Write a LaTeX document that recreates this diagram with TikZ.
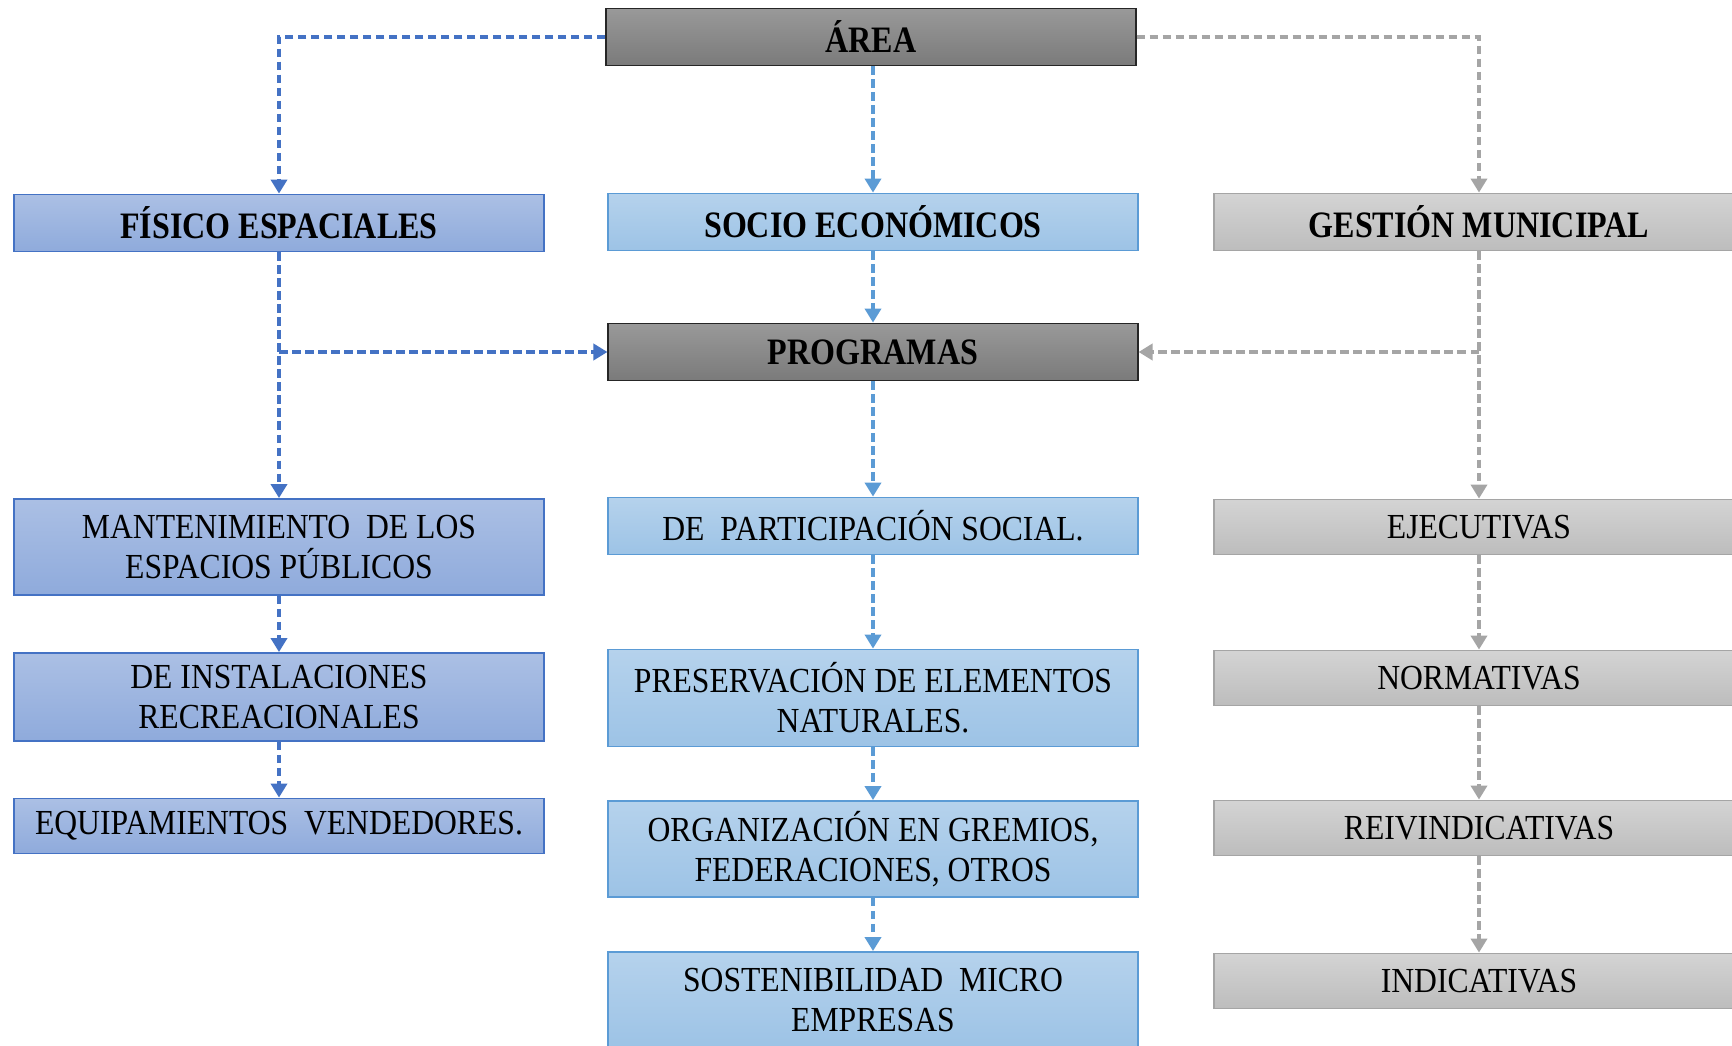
\documentclass[tikz,border=0pt]{standalone}
\usepackage{fontspec}
\setmainfont{Liberation Serif}[FakeStretch=0.9]
\newfontfamily\headfont{Liberation Serif Bold}[FakeStretch=0.86]
\usetikzlibrary{arrows.meta}

\definecolor{fisicoblue}{HTML}{4472C4}
\definecolor{socioblue}{HTML}{5B9BD5}
\definecolor{gestiongray}{HTML}{A5A5A5}

\begin{document}
\begin{tikzpicture}[x=0.01cm, y=-0.01cm,
    box/.style={rectangle, draw, line width=0.5pt, minimum width=5.29cm, minimum height=0.57cm,
        inner sep=0pt, align=center, font=\fontsize{10pt}{11.3pt}\selectfont},
    headbox/.style={box, font=\headfont\fontsize{10.6pt}{12pt}\selectfont},
    fisicobox/.style={box, draw=fisicoblue, top color=fisicoblue!45!white, bottom color=fisicoblue!60!white},
    sociobox/.style={box, draw=socioblue, top color=socioblue!45!white, bottom color=socioblue!60!white},
    gestionbox/.style={box, draw=gestiongray, top color=black!17, bottom color=black!26},
    darkbox/.style={headbox, draw=black!85, top color=black!40, bottom color=black!52},
    link/.style={line width=1.1pt, dash pattern=on 0.085cm off 0.045cm,
        -{Triangle[length=0.14cm, width=0.16cm]}},
    fisicoline/.style={link, fisicoblue},
    socioline/.style={link, socioblue},
    gestionline/.style={link, gestiongray}]

    \useasboundingbox (0,0) rectangle (1732,1046);
    \fill[white] (0,0) rectangle (1732,1046);
    \clip (0,0) rectangle (1732,1046);

    % Draw top nodes
    \node[darkbox] (area) at (871, 37) {ÁREA};
    \node[fisicobox, headbox] (fisico) at (279, 223) {FÍSICO ESPACIALES};
    \node[sociobox, headbox] (socio) at (873, 222) {SOCIO ECONÓMICOS};
    \node[gestionbox, headbox] (gestion) at (1479, 222) {GESTIÓN MUNICIPAL};
    \node[darkbox] (programas) at (873, 352) {PROGRAMAS};

    % Draw left column
    \node[fisicobox, minimum height=0.96cm] (mant) at (279, 547) {MANTENIMIENTO~ DE LOS\\ESPACIOS PÚBLICOS};
    \node[fisicobox, minimum height=0.88cm] (inst) at (279, 697) {DE INSTALACIONES\\RECREACIONALES};
    \node[fisicobox, minimum height=0.55cm] (equip) at (279, 826) {EQUIPAMIENTOS~ VENDEDORES.};

    % Draw middle column
    \node[sociobox] (part) at (873, 526) {DE~ PARTICIPACIÓN SOCIAL.};
    \node[sociobox, minimum height=0.97cm] (pres) at (873, 698) {PRESERVACIÓN DE ELEMENTOS\\NATURALES.};
    \node[sociobox, minimum height=0.96cm] (org) at (873, 849) {ORGANIZACIÓN EN GREMIOS,\\FEDERACIONES, OTROS};
    \node[sociobox, minimum height=0.96cm] (sost) at (873, 1000) {SOSTENIBILIDAD~ MICRO\\EMPRESAS};

    % Draw right column
    \node[gestionbox, minimum height=0.55cm] (ejec) at (1479, 527) {EJECUTIVAS};
    \node[gestionbox, minimum height=0.55cm] (norm) at (1479, 678) {NORMATIVAS};
    \node[gestionbox, minimum height=0.55cm] (reiv) at (1479, 828) {REIVINDICATIVAS};
    \node[gestionbox, minimum height=0.55cm] (indi) at (1479, 981) {INDICATIVAS};

    % Draw edges from the top
    \draw[fisicoline] (area.west) -| (fisico.north);
    \draw[gestionline] (area.east) -| (gestion.north);
    \draw[socioline] (area.south -| socio.north) -- (socio.north);
    \draw[socioline] (socio) -- (programas);

    % Branches into PROGRAMAS
    \coordinate (fbranch) at (fisico.south |- programas.west);
    \coordinate (gbranch) at (gestion.south |- programas.east);
    \draw[fisicoline] (fbranch) -- (programas.west);
    \draw[gestionline] (gbranch) -- (programas.east);

    % Draw edges down each column
    \draw[fisicoline] (fisico) -- (mant);
    \draw[fisicoline] (mant) -- (inst);
    \draw[fisicoline] (inst) -- (equip);
    \draw[socioline] (programas) -- (part);
    \draw[socioline] (part) -- (pres);
    \draw[socioline] (pres) -- (org);
    \draw[socioline] (org) -- (sost);
    \draw[gestionline] (gestion) -- (ejec);
    \draw[gestionline] (ejec) -- (norm);
    \draw[gestionline] (norm) -- (reiv);
    \draw[gestionline] (reiv) -- (indi);
\end{tikzpicture}
\end{document}
